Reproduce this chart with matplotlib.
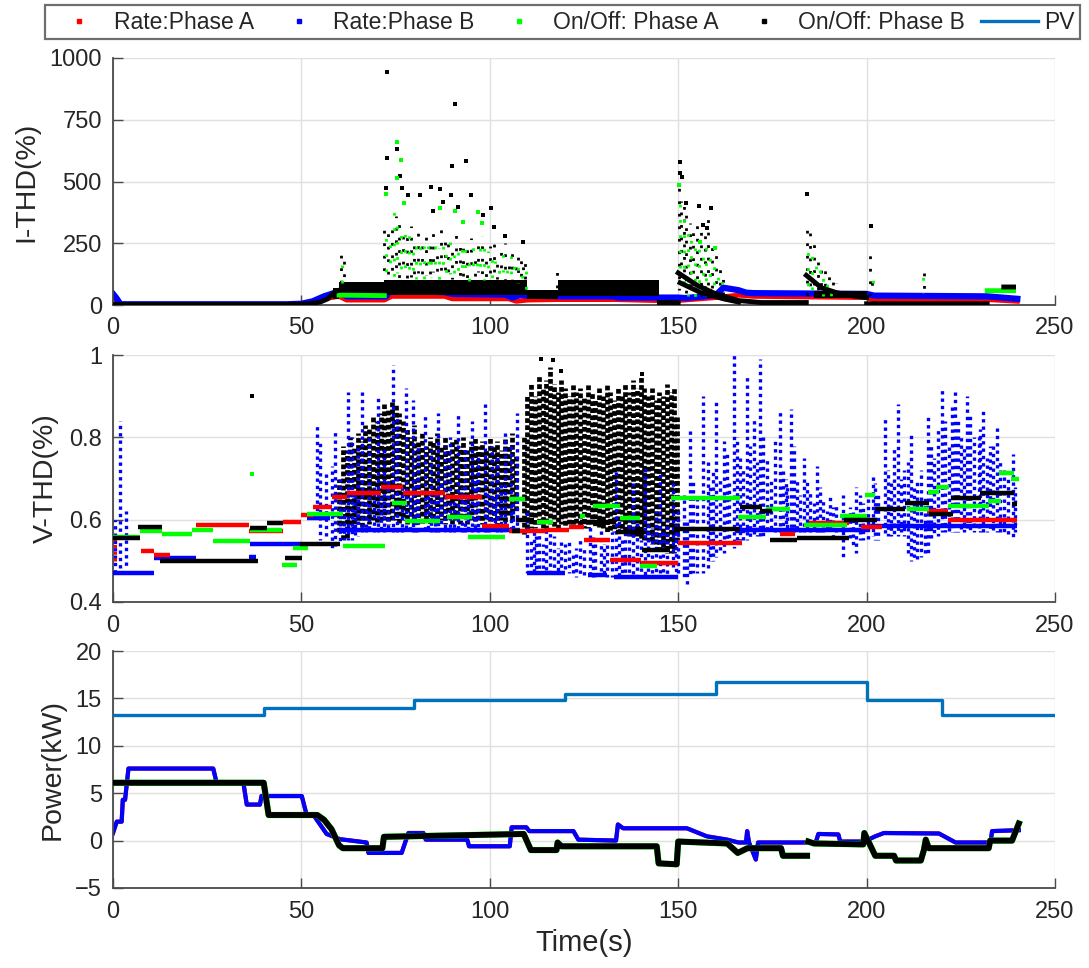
import numpy as np
import matplotlib.pyplot as plt
from matplotlib.lines import Line2D

plt.rcParams['font.family'] = ['Liberation Sans', 'DejaVu Sans']
plt.rcParams['text.color'] = '#262626'
plt.rcParams['axes.labelcolor'] = '#262626'
plt.rcParams['xtick.color'] = '#262626'
plt.rcParams['ytick.color'] = '#262626'

RED, BLUE, GREEN, BLACK = '#ff0000', '#0000ff', '#00ff00', '#000000'
PV_COLOR = '#0072bd'
nan = np.nan

time_ticks = [0, 50, 100, 150, 200, 250]
legend_labels = ['Rate:Phase A', 'Rate:Phase B', 'On/Off: Phase A', 'On/Off: Phase B', 'PV']

# ---------------- I-THD(%) ----------------
ithd_red_t = [0, 1, 2, 47, 52, 56, 60, 62, 72, 74, 88, 90, 105, 107, 110, 118, 133, 144, 150, 160, 166, 170, 200, 202, 232, 240]
ithd_red_y = [30, 15, 2, 2, 8, 25, 35, 20, 20, 35, 35, 25, 25, 15, 20, 22, 22, 18, 18, 30, 40, 35, 30, 20, 22, 15]

ithd_blue_t = [0, 0.8, 2, 46, 50, 53, 56, 59, 61, 62, 72.5, 73.5, 88, 90, 104, 106, 108, 110, 118, 133, 134, 150, 152, 160, 162, 166, 168, 170, 200, 202, 232, 240]
ithd_blue_y = [45, 30, 3, 3, 5, 15, 35, 50, 45, 35, 35, 58, 52, 45, 42, 30, 40, 38, 35, 35, 30, 30, 28, 40, 70, 60, 50, 48, 45, 38, 35, 25]

ithd_green_t = [0, 47, nan, 60, 72, nan, 232, 239]
ithd_green_y = [1, 1, nan, 40, 38, nan, 58, 58]

ithd_black_t = [0, 47, 52, 55, 57, 59, 60, nan, 145, 150, nan, 150, 155, 160, 166, 172, 184, nan,
                150.5, 156, 162, 166, nan, 184, 188, 192, 197, 200, nan, 200, 232, nan, 236.4, 239]
ithd_black_y = [2, 2, 5, 12, 25, 55, 60, nan, 10, 10, nan, 130, 80, 45, 18, 10, 10, nan,
                90, 50, 25, 12, nan, 120, 70, 50, 35, 30, nan, 5, 5, nan, 73, 73]

# dense black bands (t0, t1, low, high)
ithd_black_bands = [(58.5, 60, 25, 70), (60, 72, 45, 95), (72, 110, 40, 100),
                    (110, 118, 25, 60), (118, 145, 35, 100), (186, 200, 30, 55)]

# scattered clouds (t, low, high)
ithd_black_cloud = [(60.5, 90, 235), (61.2, 97, 200),
                    (72, 100, 320), (73, 118, 290), (74, 96, 340), (75, 125, 360), (76, 108, 330),
                    (77, 132, 300), (78, 99, 280), (79, 115, 320), (80, 104, 260), (81, 128, 300),
                    (82, 97, 250), (83, 120, 290), (84, 110, 270), (85, 135, 310), (86, 102, 240),
                    (87, 116, 330), (88, 98, 260), (89, 124, 280), (90, 106, 250), (91, 130, 300),
                    (92, 100, 240), (93, 119, 260), (94, 95, 230), (95, 126, 270), (96, 109, 220),
                    (97, 133, 250), (98, 101, 280), (99, 114, 210), (100, 97, 240), (101, 122, 260),
                    (102, 107, 200), (103, 129, 230), (104, 99, 250), (105, 117, 190), (106, 104, 210),
                    (107, 127, 170), (107.6, 90, 200), (108.2, 80, 210), (108.8, 70, 180), (109.4, 60, 190),
                    (117.8, 60, 165),
                    (150.2, 60, 480), (150.8, 72, 420), (151.5, 65, 400), (152.2, 50, 390), (153, 58, 330),
                    (154, 40, 300), (155, 47, 330), (156, 35, 330), (157, 42, 310), (158, 30, 380),
                    (159, 37, 260), (160, 25, 230), (161, 31, 180), (162, 20, 120),
                    (184.2, 40, 310), (185, 48, 290), (186, 40, 250), (187, 46, 200), (188, 35, 170),
                    (189, 41, 150), (190, 30, 130), (191, 36, 110), (192, 30, 90),
                    (200.8, 40, 210), (201.4, 40, 100), (215.2, 50, 150)]
ithd_green_cloud = [(60.8, 90, 200),
                    (72.5, 104, 300), (73.5, 122, 270), (74.5, 98, 380), (75.5, 128, 350), (76.5, 111, 330),
                    (77.5, 136, 290), (78.5, 100, 310), (79.5, 118, 260), (80.5, 106, 280), (81.5, 131, 250),
                    (82.5, 99, 240), (83.5, 124, 270), (84.5, 112, 220), (85.5, 138, 260), (86.5, 103, 230),
                    (87.5, 117, 280), (88.5, 97, 250), (89.5, 126, 260), (90.5, 108, 240), (91.5, 134, 220),
                    (92.5, 101, 250), (93.5, 120, 230), (94.5, 96, 210), (95.5, 129, 240), (96.5, 110, 200),
                    (97.5, 137, 230), (98.5, 102, 250), (99.5, 115, 220), (100.5, 99, 200), (101.5, 125, 180),
                    (102.5, 105, 190), (103.5, 132, 210), (104.5, 98, 170), (105.5, 119, 200), (106.5, 107, 180),
                    (107.5, 90, 170), (108.5, 80, 160), (109.5, 60, 150),
                    (150.5, 40, 450), (151.5, 52, 370), (152.5, 35, 300), (153.5, 44, 280), (154.5, 30, 230),
                    (155.5, 39, 260), (156.5, 30, 220), (157.5, 36, 240), (158.5, 25, 230), (159.5, 33, 200),
                    (160.5, 20, 150), (161.5, 27, 110),
                    (184.5, 40, 230), (185.5, 49, 200), (186.5, 40, 170), (187.5, 44, 150), (188.5, 35, 130),
                    (189.5, 42, 110), (190.5, 30, 90), (201.6, 50, 113), (215, 50, 160)]

ithd_black_pts_t = [72.8, 90.8, 75.3, 72.8, 89.9, 93.7, 76.2, 72.4, 76.6, 78.4, 81.6, 84.4, 86.9, 89.7,
                    94.9, 87.6, 85.0, 91.6, 100.2, 98.1, 101.0, 104.1, 108.7, 150.4, 150.6, 150.9, 152.1,
                    155.5, 158.7, 156.6, 157.7, 184.3, 201.3]
ithd_black_pts_y = [945, 813, 630, 597, 564, 584, 524, 472, 472, 445, 445, 479, 468, 445,
                    445, 418, 382, 398, 391, 364, 317, 280, 254, 580, 535, 520, 412,
                    402, 393, 324, 311, 448, 320]
ithd_green_pts_t = [75.5, 76.4, 75.3, 72.4, 77.2, 86.8, 90.8, 97.0, 97.9, 92.9, 150.3, 159.7, 155.9]
ithd_green_pts_y = [659, 587, 516, 449, 414, 394, 382, 378, 333, 337, 486, 230, 257]

# ---------------- V-THD(%) ----------------
vthd_red_steps = [(7.5, 11, 0.525), (11, 15, 0.515), (22, 36, 0.588), (36, 45, 0.572), (45, 50, 0.595),
                  (50, 53, 0.612), (53, 58, 0.63), (58, 62, 0.655), (62, 71, 0.665), (71, 77, 0.68),
                  (77, 88, 0.665), (88, 98, 0.655), (98, 105, 0.585), (105, 115, 0.572), (115, 121, 0.575),
                  (121, 125, 0.583), (125, 132, 0.551), (132, 140, 0.502), (140, 150, 0.495),
                  (150, 167, 0.543), (177, 181, 0.565), (184.6, 195.3, 0.591), (198.5, 204, 0.583),
                  (216, 221.5, 0.622), (221.5, 240, 0.60)]
vthd_green_steps = [(0, 7.2, 0.557), (7.2, 12.9, 0.572), (12.9, 20.9, 0.565), (20.9, 26.6, 0.575),
                    (26.6, 36.4, 0.548), (36.4, 44.8, 0.575), (44.8, 48.7, 0.491), (47.9, 51.8, 0.532),
                    (51.4, 61.1, 0.613), (61.1, 72.2, 0.535), (74, 78, 0.64), (77.5, 86.8, 0.597),
                    (88.6, 95.2, 0.607), (94.3, 104, 0.557), (105, 109.4, 0.65), (112.4, 116.9, 0.595),
                    (124, 125.3, 0.61), (127.5, 134.5, 0.633), (134.5, 139.9, 0.604), (139.9, 144.3, 0.488),
                    (148.2, 166.4, 0.652), (166, 173.4, 0.607), (173.4, 179.7, 0.627), (183.3, 194.7, 0.588),
                    (193, 200, 0.61), (199.6, 202.3, 0.66), (210.8, 216.6, 0.627), (216.2, 219.3, 0.667),
                    (218.4, 221.9, 0.68), (221.5, 232.6, 0.632), (232.1, 235.6, 0.646),
                    (235.2, 239.2, 0.713), (238.3, 240.5, 0.70)]
vthd_black_steps = [(0, 7.2, 0.556), (6.7, 12.9, 0.583), (12.5, 38.6, 0.50), (36.4, 41, 0.579),
                    (41, 45.2, 0.592), (45.6, 50.1, 0.506), (49.6, 60.2, 0.54), (106, 108, 0.572),
                    (107, 111.6, 0.60), (124, 133.6, 0.594), (133.6, 140.8, 0.57), (140.3, 147.8, 0.527),
                    (149, 166.4, 0.578), (166.4, 172.2, 0.63), (171.7, 174.9, 0.62), (174.4, 181.5, 0.551),
                    (181.5, 195.2, 0.556), (193.9, 202.8, 0.60), (202.3, 210.3, 0.627), (210.3, 216.6, 0.64),
                    (216.6, 222.8, 0.613), (222.4, 230.4, 0.652), (230, 239.2, 0.665), (238.5, 240, 0.637)]
vthd_blue_steps = [(0, 11, 0.471), (11, 22, 0.508), (36, 38, 0.51), (36.4, 50, 0.54), (51.4, 57.6, 0.605),
                   (60, 108, 0.575), (110, 120, 0.47), (126, 131, 0.465), (133, 150, 0.46),
                   (165, 200, 0.575), (200, 240, 0.585)]

vthd_red_cloud = [(0.5, 0.50, 0.56)]
vthd_blue_cloud = [(0.6, 0.47, 0.60), (1.8, 0.47, 0.84), (3.5, 0.48, 0.62),
                   (54.1, 0.60, 0.83), (54.9, 0.55, 0.79), (56.5, 0.56, 0.72), (58.0, 0.53, 0.73),
                   (58.8, 0.53, 0.82), (60.2, 0.54, 0.70), (61.2, 0.55, 0.64), (62.3, 0.55, 0.91),
                   (63.5, 0.55, 0.80), (64.3, 0.56, 0.66), (65, 0.56, 0.78), (66.2, 0.57, 0.91),
                   (67.1, 0.57, 0.65), (68, 0.57, 0.80), (69.2, 0.57, 0.68), (70.2, 0.57, 0.895),
                   (71.1, 0.57, 0.66), (72, 0.57, 0.78), (73.1, 0.57, 0.70), (74.2, 0.57, 0.976),
                   (75.5, 0.57, 0.85), (76.7, 0.57, 0.68), (77.8, 0.57, 0.92), (78.9, 0.57, 0.66),
                   (79.7, 0.57, 0.89), (80.3, 0.57, 0.70), (81, 0.57, 0.78), (82.8, 0.57, 0.856),
                   (83.6, 0.57, 0.67), (84.5, 0.57, 0.77), (85.4, 0.57, 0.66), (86.3, 0.57, 0.86),
                   (87.1, 0.57, 0.70), (88, 0.57, 0.78), (89.5, 0.57, 0.80), (90.4, 0.57, 0.65),
                   (91.6, 0.57, 0.86), (92.6, 0.57, 0.68), (93.5, 0.57, 0.78), (94.3, 0.57, 0.66),
                   (95.2, 0.57, 0.84), (96.1, 0.57, 0.70), (97, 0.57, 0.76), (98.7, 0.57, 0.88),
                   (99.6, 0.57, 0.67), (100.5, 0.57, 0.78), (101.3, 0.57, 0.66), (102, 0.57, 0.76),
                   (103.1, 0.57, 0.69), (104, 0.57, 0.82), (105.5, 0.57, 0.78), (106.2, 0.57, 0.66),
                   (107.1, 0.57, 0.86),
                   (110, 0.47, 0.62), (111, 0.47, 0.55), (111.6, 0.47, 0.57), (112.3, 0.47, 0.56),
                   (113, 0.47, 0.60), (114, 0.47, 0.54), (115, 0.47, 0.58), (116, 0.47, 0.57),
                   (117, 0.47, 0.56), (118, 0.47, 0.53), (119, 0.47, 0.55), (120, 0.47, 0.54),
                   (121, 0.47, 0.55), (122, 0.47, 0.52), (123, 0.46, 0.53), (124, 0.46, 0.55),
                   (125, 0.46, 0.53), (126.6, 0.47, 0.60), (127.3, 0.46, 0.56), (128, 0.46, 0.55),
                   (129.6, 0.47, 0.58), (130.3, 0.46, 0.54), (131, 0.46, 0.55), (132.3, 0.46, 0.57),
                   (133.6, 0.46, 0.72), (134.3, 0.46, 0.60), (135, 0.46, 0.55), (136, 0.46, 0.58),
                   (137, 0.46, 0.60), (138, 0.46, 0.69), (139, 0.46, 0.62), (140, 0.46, 0.55),
                   (141.2, 0.46, 0.73), (142, 0.46, 0.60), (143, 0.46, 0.58), (144, 0.46, 0.62),
                   (145.2, 0.47, 0.72), (146, 0.46, 0.58), (147, 0.46, 0.60), (148.5, 0.48, 0.70),
                   (149.3, 0.46, 0.60), (150, 0.47, 0.62), (151.5, 0.46, 0.66), (152.3, 0.44, 0.60),
                   (153.1, 0.46, 0.82), (154, 0.47, 0.70), (155, 0.47, 0.65), (156.7, 0.47, 0.90),
                   (157.8, 0.48, 0.74), (158.5, 0.50, 0.68), (159.3, 0.50, 0.72), (160.1, 0.51, 0.89),
                   (161.2, 0.52, 0.70), (162.1, 0.52, 0.79), (163, 0.54, 0.76), (163.5, 0.55, 0.70),
                   (164.8, 0.53, 1.0), (165.6, 0.54, 0.80), (166.5, 0.55, 0.75), (167.3, 0.55, 0.72),
                   (168.2, 0.55, 0.95), (169.1, 0.55, 0.78), (170, 0.56, 0.85), (170.9, 0.56, 0.74),
                   (171.7, 0.56, 0.99), (172.6, 0.56, 0.80), (173.5, 0.57, 0.75), (174.6, 0.57, 0.70),
                   (175.7, 0.57, 0.79), (176.9, 0.57, 0.87), (177.7, 0.57, 0.72), (178.5, 0.57, 0.70),
                   (179, 0.57, 0.68), (179.9, 0.57, 0.87), (180.7, 0.57, 0.78), (181.5, 0.57, 0.70),
                   (182.4, 0.57, 0.66), (183.4, 0.57, 0.75), (184.2, 0.57, 0.70), (185, 0.57, 0.67),
                   (186, 0.57, 0.64), (186.9, 0.57, 0.73), (187.7, 0.57, 0.68), (188.5, 0.57, 0.65),
                   (189.4, 0.57, 0.62), (190.3, 0.57, 0.66), (191.2, 0.56, 0.63), (192, 0.57, 0.64),
                   (193.8, 0.51, 0.66), (195.5, 0.55, 0.63), (196.4, 0.53, 0.62), (197.3, 0.52, 0.68),
                   (198.2, 0.55, 0.66), (199, 0.55, 0.64), (200.5, 0.55, 0.65), (201.6, 0.56, 0.71),
                   (202.3, 0.55, 0.69), (203, 0.55, 0.66), (204.8, 0.56, 0.85), (205.7, 0.56, 0.72),
                   (206.5, 0.56, 0.70), (207.4, 0.56, 0.78), (208.4, 0.56, 0.88), (209.2, 0.56, 0.70),
                   (210, 0.56, 0.72), (211, 0.52, 0.74), (211.9, 0.50, 0.81), (212.7, 0.50, 0.68),
                   (213.5, 0.50, 0.70), (214.5, 0.51, 0.72), (215.4, 0.52, 0.66), (216.4, 0.52, 0.85),
                   (217.2, 0.55, 0.78), (218, 0.56, 0.75), (219, 0.56, 0.82), (220, 0.57, 0.92),
                   (220.9, 0.57, 0.84), (221.8, 0.57, 0.78), (222.6, 0.57, 0.88), (223.5, 0.57, 0.92),
                   (224.2, 0.57, 0.84), (225, 0.57, 0.80), (225.8, 0.57, 0.78), (226.6, 0.58, 0.90),
                   (227.5, 0.57, 0.86), (228.5, 0.57, 0.80), (229.7, 0.57, 0.80), (230.2, 0.57, 0.82),
                   (231, 0.57, 0.87), (232, 0.57, 0.75), (232.8, 0.57, 0.78), (233.6, 0.57, 0.78),
                   (234.5, 0.57, 0.83), (235.5, 0.57, 0.74), (236.5, 0.57, 0.72), (237.6, 0.56, 0.70),
                   (238.9, 0.55, 0.76), (239.5, 0.57, 0.68)]
vthd_black_cloud = [(60, 0.57, 0.70), (61, 0.55, 0.78), (62, 0.55, 0.77), (63, 0.58, 0.80), (64, 0.58, 0.78),
                    (65, 0.59, 0.81), (66, 0.58, 0.79), (67, 0.60, 0.83), (68, 0.59, 0.82), (69, 0.60, 0.85),
                    (70, 0.59, 0.84), (71, 0.60, 0.86), (72, 0.60, 0.88), (73, 0.59, 0.87), (74, 0.60, 0.89),
                    (75, 0.60, 0.88), (76, 0.59, 0.86), (77, 0.60, 0.84), (78, 0.59, 0.82), (79, 0.60, 0.80),
                    (80, 0.59, 0.83), (81, 0.60, 0.79), (82, 0.59, 0.81), (83, 0.60, 0.78), (84, 0.59, 0.80),
                    (85, 0.60, 0.79), (86, 0.59, 0.81), (87, 0.60, 0.78), (88, 0.59, 0.80), (89, 0.60, 0.77),
                    (90, 0.59, 0.79), (91, 0.60, 0.80), (92, 0.59, 0.78), (93, 0.60, 0.80), (94, 0.59, 0.77),
                    (95, 0.60, 0.79), (96, 0.59, 0.80), (97, 0.60, 0.78), (98, 0.59, 0.79), (99, 0.60, 0.77),
                    (100, 0.59, 0.80), (101, 0.60, 0.78), (102, 0.59, 0.79), (103, 0.60, 0.77), (104, 0.59, 0.80),
                    (105, 0.61, 0.78), (106, 0.60, 0.81), (107, 0.62, 0.76),
                    (109, 0.56, 0.80), (110, 0.57, 0.90), (111, 0.58, 0.93), (112, 0.58, 0.90), (113, 0.59, 0.95),
                    (114, 0.58, 0.92), (115, 0.58, 0.94), (116, 0.59, 0.97), (117, 0.58, 0.93), (118, 0.58, 0.91),
                    (119, 0.59, 0.94), (120, 0.58, 0.92), (121, 0.59, 0.90), (122, 0.58, 0.93), (123, 0.59, 0.91),
                    (124, 0.58, 0.92), (125, 0.58, 0.90), (126, 0.58, 0.93), (127, 0.59, 0.91), (128, 0.58, 0.89),
                    (129, 0.58, 0.92), (130, 0.58, 0.90), (131, 0.57, 0.93), (132, 0.57, 0.91), (133, 0.57, 0.89),
                    (134, 0.57, 0.92), (135, 0.57, 0.90), (136, 0.57, 0.93), (137, 0.56, 0.91), (138, 0.56, 0.94),
                    (139, 0.56, 0.92), (140, 0.55, 0.95), (141, 0.55, 0.92), (142, 0.55, 0.90), (143, 0.54, 0.92),
                    (144, 0.54, 0.89), (145, 0.53, 0.91), (146, 0.53, 0.90), (147, 0.52, 0.93), (148, 0.52, 0.91),
                    (149, 0.52, 0.92), (149.8, 0.55, 0.85)]
vthd_black_pts_t = [36.8, 113.5, 116.7, 119.0, 140.5]
vthd_black_pts_y = [0.901, 0.99, 0.988, 0.96, 0.955]
vthd_green_pts_t = [36.8]
vthd_green_pts_y = [0.71]

# ---------------- Power(kW) ----------------
pv_t = [0, 40, 80, 120, 160, 200, 220, 250]
pv_kw = [13.3, 14.0, 14.8, 15.5, 16.7, 14.8, 13.3, 13.3]

pw_rate_t = [0, 1.0, 2.3, 2.6, 3.2, 4.1, 26.6, 27.5, 34.6, 35.5, 39.0, 39.4, 50.1, 51.4, 53.2, 56.7, 60.2, 67.3,
             67.8, 76.6, 78.4, 82.4, 83.0, 94.0, 94.5, 105.3, 105.8, 109.7, 110.5, 122.2, 123.5, 133.5,
             134.0, 135.4, 152.3, 157.6, 163.0, 166.0, 168.0, 168.3, 168.8, 170.6, 171.2, 186.5, 187.2,
             192.5, 193.0, 199.4, 202.3, 204.6, 219.2, 223.6, 232.9, 233.3, 240.4]
pw_rate_b = [0.8, 2.0, 2.0, 4.3, 4.3, 7.6, 7.6, 6.1, 6.1, 3.8, 3.8, 4.7, 4.7, 2.7, 2.7, 0.7, 0.15, -0.2,
             -1.3, -1.3, 0.8, 0.8, 0.1, 0.1, -0.6, -0.6, 1.4, 1.4, 1.0, 1.0, 0.1, 0.0,
             1.7, 1.3, 1.3, 0.45, 0.1, -0.2, -0.2, 1.0, -0.2, -2.0, -0.2, -0.2, 0.7,
             0.65, -0.1, -0.1, 0.45, 0.8, 0.75, -0.2, -0.2, 1.0, 1.1]
pw_onoff_t = [0, 40.0, 41.3, 54.2, 56.0, 58.0, 60.0, 61.0, 71.5, 71.9, 109.0, 110.9, 117.7, 118.0, 119.0,
              144.3, 144.8, 149.6, 150.0, 163.0, 165.8, 168.4, 177.3, 177.8, 184.2, nan, 184.5, 186.0,
              199.1, 199.4, 202.3, 207.3, 207.8, 214.4, 215.2, 215.7, 216.5, 232.4, 232.8, 238.6, 240.4]
pw_onoff_b = [6.1, 6.1, 2.7, 2.7, 2.2, 1.2, -0.5, -0.8, -0.8, 0.4, 0.7, -1.0, -1.0, -0.2, -0.6,
              -0.6, -2.4, -2.5, -0.1, -0.3, -1.3, -0.8, -0.8, -1.6, -1.6, nan, -0.1, -0.3,
              -0.4, 0.8, -1.6, -1.6, -2.1, -2.1, -1.0, 0.1, -0.8, -0.8, 0.0, 0.0, 1.8]

# dash phase per column (points), irregular so neighbouring dotted columns do not line up
DASH_PHASE = [0, 2.9, 1.1, 3.8, 0.6, 2.2, 4.3, 1.6, 3.4, 0.2, 2.6, 4.7, 1.9, 0.9, 3.0,
              5.2, 1.3, 2.4, 0.5, 3.7, 4.9, 1.0, 2.8]


def steps(ax, segs, color, lw=3.2, z=5):
    t0, t1, y = zip(*segs)
    ax.hlines(y, t0, t1, color=color, lw=lw, zorder=z)


def cloud(ax, cols, color, lw=2.0, dash=(1, 1.5), z=3):
    t, lo, hi = zip(*cols)
    styles = [(DASH_PHASE[i % len(DASH_PHASE)], dash) for i in range(len(t))]
    ax.vlines(t, lo, hi, color=color, lw=lw, linestyles=styles, zorder=z)


def bands(ax, bnds, color, z=3):
    t0, t1, lo, hi = (np.array(v, dtype=float) for v in zip(*bnds))
    ax.bar(t0, hi - lo, width=t1 - t0, bottom=lo, align='edge', color=color, lw=0, zorder=z)


def style(ax, ylim, yticks, ylabel, yticklabels=None):
    ax.set_xlim(0, 250)
    ax.set_ylim(*ylim)
    ax.set_xticks(time_ticks)
    ax.set_yticks(yticks)
    if yticklabels:
        ax.set_yticklabels(yticklabels)
    ax.grid(True, color='#e0e0e0', lw=1.0)
    ax.set_axisbelow(True)
    for s in ['top', 'right']:
        ax.spines[s].set_visible(False)
    for s in ['left', 'bottom']:
        ax.spines[s].set_color('#4a4a4a')
        ax.spines[s].set_linewidth(1.3)
    ax.tick_params(direction='in', length=7, width=1.0, color='#4a4a4a', labelsize=17)
    ax.tick_params(axis='y', pad=8)
    ax.tick_params(axis='x', pad=9)
    ax.set_ylabel(ylabel, fontsize=20.5, labelpad=7)


fig = plt.figure(figsize=(10.89, 9.68), dpi=100)
L, W = 113 / 1089, 942 / 1089
ax1 = fig.add_axes([L, 1 - 305 / 968, W, 247 / 968])
ax2 = fig.add_axes([L, 1 - 602 / 968, W, 247 / 968])
ax3 = fig.add_axes([L, 1 - 888 / 968, W, 237 / 968])

# I-THD
ax1.plot(ithd_red_t, ithd_red_y, color=RED, lw=3.5, zorder=2)
ax1.plot(ithd_blue_t, ithd_blue_y, color=BLUE, lw=4.5, zorder=2.5)
bands(ax1, ithd_black_bands, BLACK, z=3)
cloud(ax1, ithd_black_cloud, BLACK, lw=2.0, dash=(1, 3.5), z=3.2)
cloud(ax1, ithd_green_cloud, GREEN, lw=2.0, dash=(1, 4.5), z=3.4)
ax1.plot(ithd_green_t, ithd_green_y, color=GREEN, lw=3.5, zorder=3.5)
ax1.plot(ithd_black_t, ithd_black_y, color=BLACK, lw=3.5, zorder=4)
ax1.scatter(ithd_black_pts_t, ithd_black_pts_y, s=7, marker='s', color=BLACK, lw=0, zorder=5)
ax1.scatter(ithd_green_pts_t, ithd_green_pts_y, s=7, marker='s', color=GREEN, lw=0, zorder=5)
style(ax1, (0, 1000), [0, 250, 500, 750, 1000], 'I-THD(%)')

# V-THD
cloud(ax2, vthd_black_cloud, BLACK, lw=3.4, dash=(1, 0.5), z=3)
cloud(ax2, vthd_blue_cloud, BLUE, lw=2.4, dash=(1, 1.2), z=3.5)
cloud(ax2, vthd_red_cloud, RED, lw=2.2, dash=(1, 1.2), z=3.5)
steps(ax2, vthd_blue_steps, BLUE, z=4)
steps(ax2, vthd_red_steps, RED, z=4.2)
steps(ax2, vthd_green_steps, GREEN, z=4.4)
steps(ax2, vthd_black_steps, BLACK, z=4.6)
ax2.scatter(vthd_black_pts_t, vthd_black_pts_y, s=7, marker='s', color=BLACK, lw=0, zorder=5)
ax2.scatter(vthd_green_pts_t, vthd_green_pts_y, s=7, marker='s', color=GREEN, lw=0, zorder=5)
style(ax2, (0.4, 1.0), [0.4, 0.6, 0.8, 1.0], 'V-THD(%)', ['0.4', '0.6', '0.8', '1'])

# Power
ax3.plot(pw_rate_t, pw_rate_b, color=RED, lw=3.0, zorder=2)
ax3.plot(pw_rate_t, pw_rate_b, color=BLUE, lw=3.0, zorder=2.5)
ax3.plot(pw_onoff_t, pw_onoff_b, color=GREEN, lw=4.5, zorder=3)
ax3.plot(pw_onoff_t, pw_onoff_b, color=BLACK, lw=4.2, zorder=3.5)
ax3.step(pv_t, pv_kw, where='post', color=PV_COLOR, lw=2.4, zorder=4)
style(ax3, (-5, 20), [-5, 0, 5, 10, 15, 20], 'Power(kW)')
ax3.set_xlabel('Time(s)', fontsize=21, labelpad=5)

handles = [Line2D([], [], ls='none', marker='s', markersize=2.5, color=c) for c in (RED, BLUE, GREEN, BLACK)]
handles.append(Line2D([], [], color=PV_COLOR, lw=2.4))
leg = fig.legend(handles, legend_labels, loc='upper left', ncol=5, mode='expand',
                 bbox_to_anchor=(45 / 1089, 1 - 5 / 968, 1035 / 1089, 0.0),
                 fontsize=16.5, frameon=True, fancybox=False, borderpad=0.25,
                 handlelength=2.5, handletextpad=0.25, columnspacing=0.4, borderaxespad=0)
leg.get_frame().set_edgecolor('#4a4a4a')
leg.get_frame().set_linewidth(1.6)

fig.savefig('out.png', dpi=100)
